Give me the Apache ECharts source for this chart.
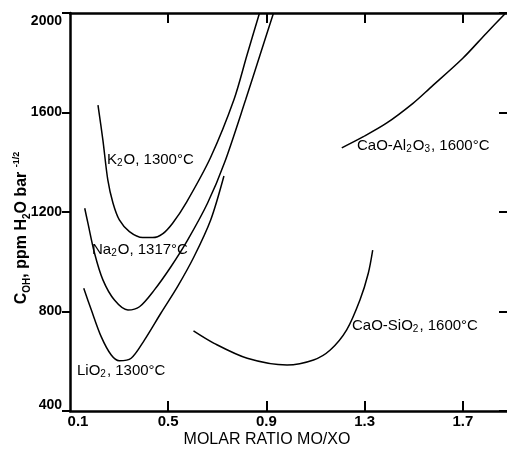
<!DOCTYPE html>
<html>
<head>
<meta charset="utf-8">
<script src="https://cdn.jsdelivr.net/npm/echarts@6/dist/echarts.min.js"></script>
<style>html,body{margin:0;padding:0;background:#fff}#c{width:507px;height:449px}</style>
</head>
<body>
<div id="c"></div>
<script>
// ---- data (x = molar ratio MO/XO, y = C_OH ppm H2O bar^-1/2) ----
var xTickLabels = [0.1, 0.5, 0.9, 1.3, 1.7];
var xTicks = [0.5, 0.9, 1.3, 1.7];
var yTickLabels = [400, 800, 1200, 1600, 2000];

var k2o = [[0.214,1630],[0.234,1489],[0.254,1329],[0.275,1236],[0.301,1168],[0.342,1121],[0.396,1097],[0.437,1097],[0.477,1112],[0.518,1155],[0.575,1240],[0.673,1420],[0.768,1652],[0.821,1831],[0.872,2000]];
var na2o = [[0.160,1215],[0.173,1155],[0.200,1034],[0.234,927],[0.281,846],[0.336,806],[0.383,819],[0.443,886],[0.511,980],[0.579,1087],[0.660,1235],[0.730,1400],[0.815,1650],[0.874,1831],[0.929,2000]];
var lio2 = [[0.156,893],[0.187,806],[0.227,699],[0.268,625],[0.301,602],[0.349,612],[0.403,685],[0.470,793],[0.538,900],[0.605,1020],[0.673,1168],[0.727,1345]];
var caoSiO2 = [[0.603,722],[0.687,672],[0.822,612],[0.984,585],[1.092,605],[1.160,645],[1.227,726],[1.281,846],[1.315,954],[1.333,1047]];
var caoAl2O3 = [[1.207,1458],[1.295,1503],[1.389,1557],[1.497,1637],[1.565,1697],[1.700,1818],[1.795,1918],[1.875,2000]];

var FONT = '"Liberation Sans", Arial, Helvetica, sans-serif';
var chart = echarts.init(document.getElementById('c'));

function mk(name, data) {
  return {
    name: name, type: 'line', data: data, smooth: 0.3, showSymbol: false,
    xAxisIndex: 0, yAxisIndex: 0, silent: true,
    lineStyle: {color: '#000', width: 1.5}
  };
}

var tickFontX = {fontFamily: FONT, fontSize: 15, fontWeight: 'bold', color: '#000'};
var tickFontY = {fontFamily: FONT, fontSize: 14, fontWeight: 'bold', color: '#000'};
var normal = {fontFamily: FONT, fontSize: 15, color: '#000', lineHeight: 18};
var sub = {fontFamily: FONT, fontSize: 10, color: '#000', lineHeight: 18, verticalAlign: 'bottom', padding: [0, 1, 0, 0]};

function richLabel(text, left, top) {
  return {
    type: 'text', left: left, top: top, silent: true,
    style: {text: text, rich: {n: normal, s: sub}, font: '15px ' + FONT, fill: '#000'}
  };
}

chart.setOption({
  animation: false,
  backgroundColor: '#fff',
  grid: {left: 70, right: -2, top: 13, bottom: 38, containLabel: false},
  xAxis: [{
    type: 'value', min: 0.1, max: 1.88, position: 'bottom',
    axisLine: {show: true, lineStyle: {color: '#000', width: 2.5}},
    axisTick: {show: true, inside: true, length: 10, customValues: xTicks, lineStyle: {color: '#000', width: 2}},
    axisLabel: {
      show: true, customValues: xTickLabels, margin: 3,
      fontFamily: FONT, fontSize: 15, fontWeight: 'bold', color: '#000',
      formatter: function (v) { return Math.abs(v - 0.1) < 1e-6 ? '{f|0.1}' : '{n|' + v.toFixed(1) + '}'; },
      rich: {f: Object.assign({padding: [0, 0, 0, 16]}, tickFontX), n: tickFontX}
    },
    splitLine: {show: false}
  }, {
    type: 'value', min: 0.1, max: 1.88, position: 'top',
    axisLine: {show: true, lineStyle: {color: '#000', width: 2.5}},
    axisTick: {show: true, inside: true, length: 10, customValues: xTicks, lineStyle: {color: '#000', width: 2}},
    axisLabel: {show: false},
    splitLine: {show: false}
  }],
  yAxis: [{
    type: 'value', min: 400, max: 2000, interval: 400, position: 'left',
    axisLine: {show: true, lineStyle: {color: '#000', width: 2.5}},
    axisTick: {show: true, inside: false, length: 8, lineStyle: {color: '#000', width: 2}},
    axisLabel: {
      show: true, margin: 8,
      fontFamily: FONT, fontSize: 14, fontWeight: 'bold', color: '#000',
      formatter: function (v) {
        if (v === 2000) return '{t|2000}';
        if (v === 400) return '{b|400}';
        return '{n|' + v + '}';
      },
      rich: {
        t: Object.assign({padding: [17, 0, 0, 0]}, tickFontY),
        b: Object.assign({padding: [0, 0, 12, 0]}, tickFontY),
        n: tickFontY
      }
    },
    splitLine: {show: false}
  }, {
    type: 'value', min: 400, max: 2000, interval: 400, position: 'right',
    axisLine: {show: false},
    axisTick: {show: true, inside: true, length: 8, lineStyle: {color: '#000', width: 2}},
    axisLabel: {show: false},
    splitLine: {show: false}
  }],
  series: [
    mk('K2O, 1300°C', k2o),
    mk('Na2O, 1317°C', na2o),
    mk('LiO2, 1300°C', lio2),
    mk('CaO-SiO2, 1600°C', caoSiO2),
    mk('CaO-Al2O3, 1600°C', caoAl2O3)
  ],
  graphic: [
    richLabel('{n|K}{s|2}{n|O, 1300°C}', 107, 152),
    richLabel('{n|Na}{s|2}{n|O, 1317°C}', 92, 242),
    richLabel('{n|LiO}{s|2}{n|, 1300°C}', 77, 363),
    richLabel('{n|CaO-Al}{s|2}{n|O}{s|3}{n|, 1600°C}', 357, 138),
    richLabel('{n|CaO-SiO}{s|2}{n|, 1600°C}', 352, 318),
    {
      type: 'text', x: 267, y: 440, silent: true,
      style: {text: 'MOLAR RATIO MO/XO', font: '16px ' + FONT, fill: '#000', align: 'center', verticalAlign: 'middle'}
    },
    {
      type: 'text', x: 22, y: 228, rotation: Math.PI / 2, silent: true,
      style: {
        text: '{n|C}{s|OH}{n|, ppm H}{s|2}{n|O bar }{p|-1/2}',
        align: 'center', verticalAlign: 'middle',
        font: 'bold 16px ' + FONT, fill: '#000',
        rich: {
          n: {fontFamily: FONT, fontSize: 16, fontWeight: 'bold', color: '#000', lineHeight: 20},
          s: {fontFamily: FONT, fontSize: 10, fontWeight: 'bold', color: '#000', lineHeight: 20, verticalAlign: 'bottom'},
          p: {fontFamily: FONT, fontSize: 9, fontWeight: 'bold', color: '#000', lineHeight: 20, verticalAlign: 'top'}
        }
      }
    }
  ]
});
</script>
</body>
</html>
